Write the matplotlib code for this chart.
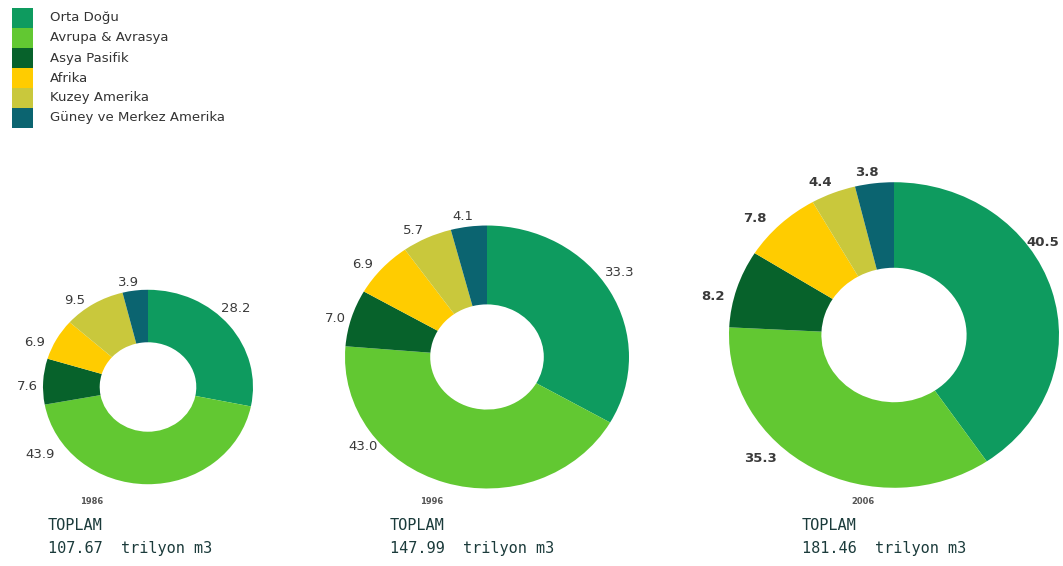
import numpy as np
import matplotlib.pyplot as plt
from matplotlib.patches import Rectangle

# data
regions = ['Orta Doğu', 'Avrupa & Avrasya', 'Asya Pasifik', 'Afrika',
           'Kuzey Amerika', 'Güney ve Merkez Amerika']
colors = ['#0e9b5f', '#62c832', '#07622b', '#ffcc00', '#c9c83c', '#0b6470']
years = ['1986', '1996', '2006']
shares_1986 = [28.2, 43.9, 7.6, 6.9, 9.5, 3.9]
shares_1996 = [33.3, 43.0, 7.0, 6.9, 5.7, 4.1]
shares_2006 = [40.5, 35.3, 8.2, 7.8, 4.4, 3.8]
totals = ['107.67', '147.99', '181.46']

# layout (pixels of the 1063x566 picture, y from top)
W, H = 1063, 566
S = 1.08  # the original donuts are a bit wider than tall
centers = [(148, 387), (487, 357), (894, 335)]
radii = [105, 142, 165]
holes = [0.46, 0.40, 0.44]
label_pos = [
    [(236, 308), (40, 455), (27, 387), (35, 342), (75, 300), (128, 282)],
    [(620, 272), (363, 447), (335, 318), (363, 265), (413, 230), (463, 217)],
    [(1043, 243), (760, 458), (713, 297), (755, 218), (820, 183), (867, 173)],
]
year_pos = [(92, 502), (432, 502), (863, 502)]
total_x = [48, 390, 802]
leg_top, leg_row = 8, 20


def Y(py):
    return (H - py) * S


fig = plt.figure(figsize=(W / 100, H / 100), dpi=100)
ax = fig.add_axes([0, 0, 1, 1])

all_shares = [shares_1986, shares_1996, shares_2006]
for i, shares in enumerate(all_shares):
    cx, cy = centers[i]
    r = radii[i]
    ax.pie(shares, colors=colors, startangle=90, counterclock=False,
           radius=r, center=(cx, Y(cy)),
           wedgeprops=dict(width=r * (1 - holes[i]), linewidth=0))
    weight = 'bold' if i == 2 else 'normal'
    for val, (lx, ly) in zip(shares, label_pos[i]):
        ax.text(lx, Y(ly), '%.1f' % val, ha='center', va='center',
                fontsize=9.5, color='#3a3a3a', fontweight=weight)
    yx, yy = year_pos[i]
    ax.text(yx, Y(yy), years[i], ha='center', va='center', fontsize=6,
            color='#555555', fontweight='bold')
    ax.text(total_x[i], Y(525), 'TOPLAM', ha='left', va='center',
            fontsize=11, family='DejaVu Sans Mono', color='#1b3b3b')
    ax.text(total_x[i], Y(549), totals[i] + '  trilyon m3', ha='left',
            va='center', fontsize=11, family='DejaVu Sans Mono', color='#1b3b3b')

# legend: stacked colour boxes with names
for k, (name, col) in enumerate(zip(regions, colors)):
    top = leg_top + k * leg_row
    ax.add_patch(Rectangle((12, Y(top + leg_row)), 21, leg_row * S,
                           facecolor=col, edgecolor='none'))
    ax.text(50, Y(top + leg_row / 2), name, ha='left', va='center',
            fontsize=9.5, color='#333333')

ax.set_xlim(0, W)
ax.set_ylim(0, H * S)
ax.set_aspect('auto')
ax.axis('off')

fig.savefig('out.png', dpi=100)
